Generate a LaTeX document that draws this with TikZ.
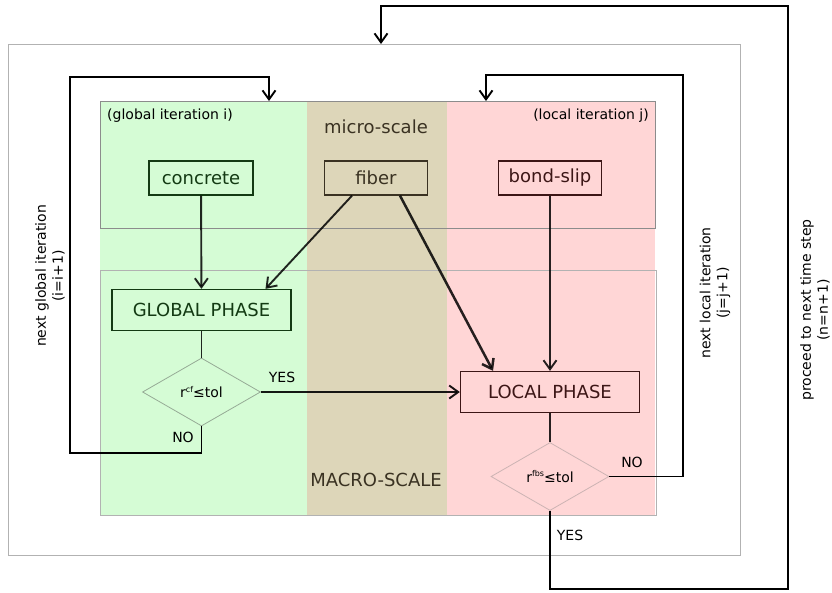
\documentclass[tikz,border=0pt]{standalone}
\usepackage{fontspec}
\setmainfont{DejaVu Sans}
\usetikzlibrary{shapes.geometric,arrows.meta}
\definecolor{vert}{HTML}{D5FCD5}
\definecolor{beige}{HTML}{DDD6B9}
\definecolor{rose}{HTML}{FFD6D6}
\definecolor{vertfonce}{HTML}{133A13}
\definecolor{beigefonce}{HTML}{3A3222}
\definecolor{rosefonce}{HTML}{3C1616}
\newcommand{\exposant}[1]{\raisebox{0.42em}{\fontsize{8}{8}\selectfont #1}}
\tikzset{
  boite/.style={draw,line width=1.3pt,minimum height=34pt,inner sep=0pt,font=\fontsize{18}{20}\selectfont},
  phase/.style={boite,minimum height=41pt,minimum width=179pt},
  test/.style={diamond,draw,line width=0.8pt,minimum width=118pt,minimum height=68pt,inner sep=0pt,font=\fontsize{14}{16}\selectfont},
  fleche/.style={-{Straight Barb[length=9pt,width=13pt]},line width=1.9pt},
  etiq/.style={font=\fontsize{14}{17}\selectfont},
}
\begin{document}
\begin{tikzpicture}[x=1pt,y=-1pt]
\useasboundingbox (0,0) rectangle (832,592);
%					Tracé des zones :
\fill[vert] (100,101) rectangle (307,515);
\fill[beige] (307,101) rectangle (447,515);
\fill[rose] (447,101) rectangle (655,515);
\draw[black!45,line width=1pt] (100,101) rectangle (655,228);
\draw[black!30,line width=1pt] (100,270) rectangle (656,515);
\draw[black!30,line width=1pt] (8.5,44) rectangle (740,555);
%					Textes des zones :
\node[etiq] (iterg) at (170,116) {(global iteration i)};
\node[etiq] (iterl) at (591,116) {(local iteration j)};
\node[font=\fontsize{18}{20}\selectfont,text=beigefonce] (micro) at (376,127) {micro-scale};
\node[font=\fontsize{18}{20}\selectfont,text=beigefonce] (macro) at (376,480) {MACRO-SCALE};
%					Les boites :
\node[boite,draw=vertfonce,text=vertfonce,minimum width=104pt] (concrete) at (201,178) {concrete};
\node[boite,draw=beigefonce,text=beigefonce,minimum width=103pt] (fiber) at (376,178) {fiber};
\node[boite,draw=rosefonce,text=rosefonce,minimum width=103pt] (bond) at (550,178) {bond-slip};
\node[phase,draw=vertfonce,text=vertfonce] (global) at (201.5,310) {GLOBAL PHASE};
\node[phase,draw=rosefonce,text=rosefonce] (local) at (550,392) {LOCAL PHASE};
\node[test,draw=black!25!vert!70!gray] (dcf) at (201.5,392) {r\exposant{cf}≤tol};
\node[test,draw=rose!60!gray] (dfbs) at (550,476.5) {r\exposant{fbs}≤tol};
%					Les fleches :
\draw[fleche,draw opacity=0.85] (concrete) -- (global);
\draw[fleche,draw opacity=0.85] ([xshift=-24pt]fiber.south) -- ([xshift=64pt]global.north);
\draw[fleche,draw opacity=0.85,line width=2.5pt] ([xshift=24pt]fiber.south) -- ([xshift=-57pt]local.north);
\draw[fleche,draw opacity=0.85] (bond) -- (local);
\draw[line width=1.9pt,draw opacity=0.85] (global) -- (dcf);
\draw[line width=1.9pt,draw opacity=0.85] (local) -- (dfbs);
\draw[fleche,draw opacity=0.9] (dcf.east) -- (local.west);
%					Les boucles :
\coordinate (basG) at (70,453);
\coordinate (hautG) at (70,77);
\coordinate (finG) at (269,101);
\draw[fleche] (dcf.south) |- (basG) -- (hautG) -| (finG);
\coordinate (hautL) at (683,75);
\coordinate (finL) at (486,101);
\draw[fleche] (dfbs.east) -| (hautL) -| (finL);
\coordinate (basT) at (788,589);
\coordinate (hautT) at (788,6);
\coordinate (finT) at (381,44);
\draw[fleche] (dfbs.south) |- (basT) -- (hautT) -| (finT);
%					Les etiquettes :
\node[etiq] (oui1) at (282,377) {YES};
\node[etiq] (non1) at (183,437) {NO};
\node[etiq] (non2) at (632,462) {NO};
\node[etiq] (oui2) at (570,535) {YES};
\node[etiq,rotate=90,align=center] (bouclG) at (50,276) {next global iteration\\(i=i+1)};
\node[etiq,rotate=90,align=center] (bouclL) at (715,293) {next local iteration\\(j=j+1)};
\node[etiq,rotate=90,align=center] (bouclT) at (815,310) {proceed to next time step\\(n=n+1)};
\end{tikzpicture}
\end{document}
